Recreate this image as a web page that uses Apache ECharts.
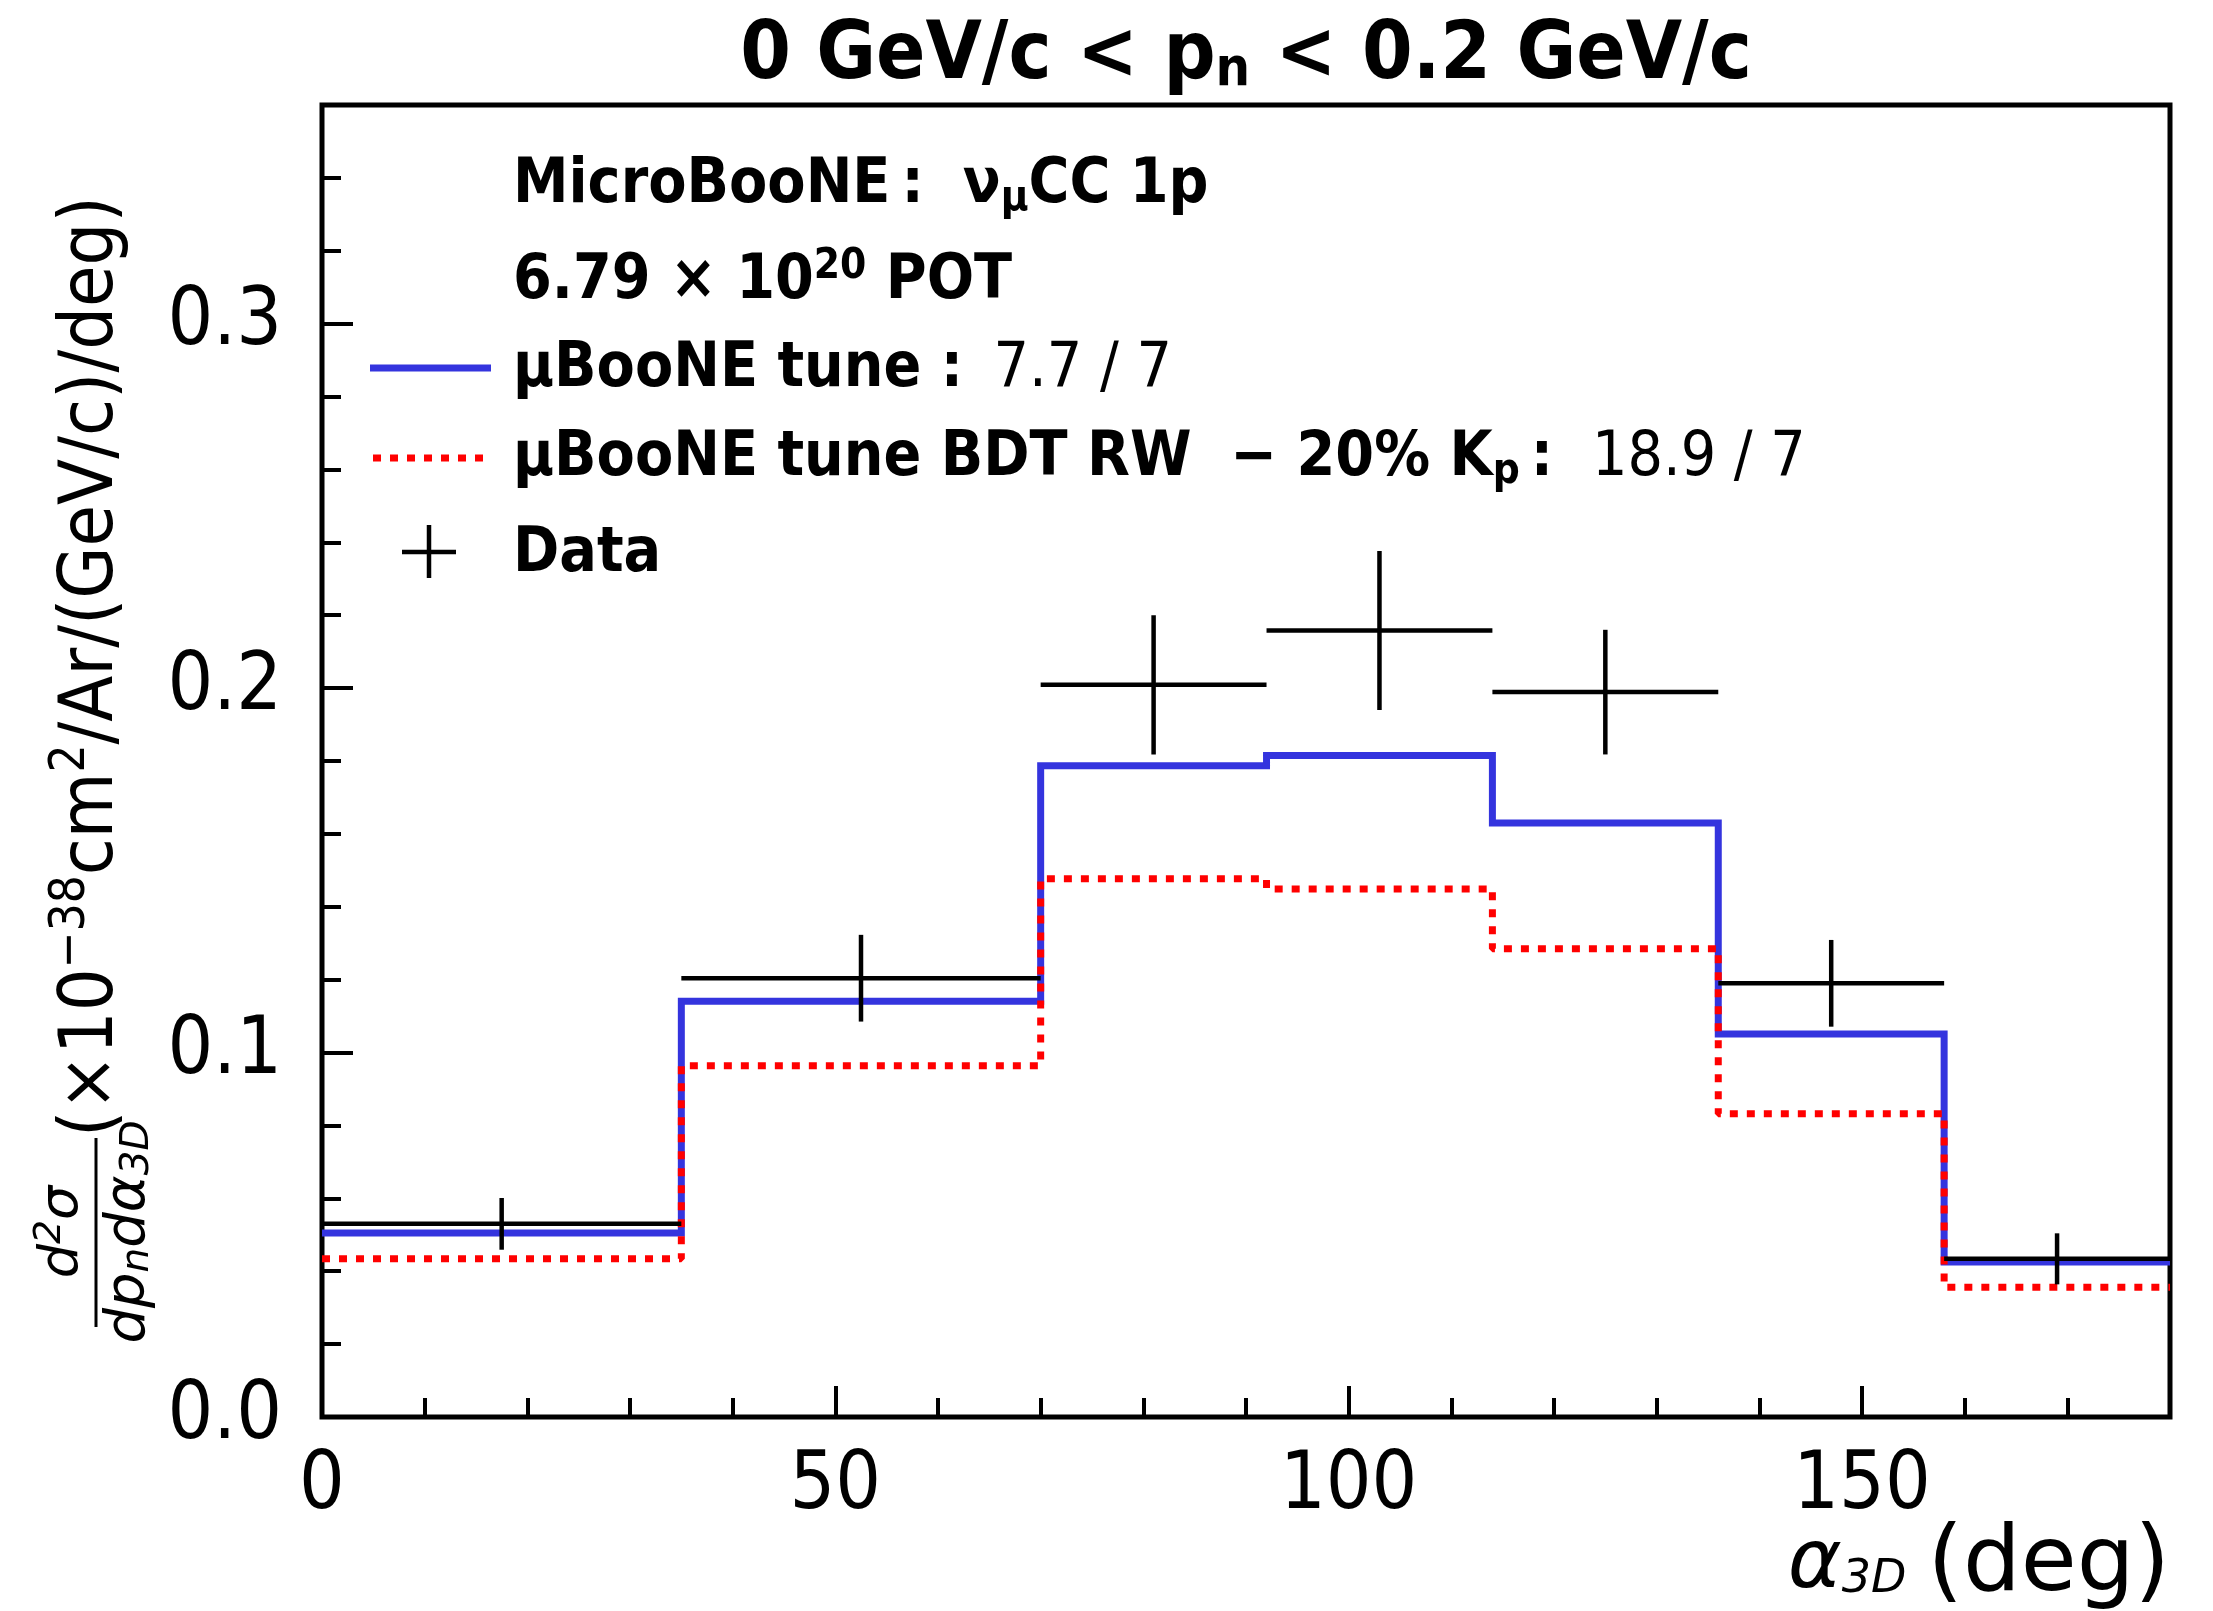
<!DOCTYPE html>
<html>
<head>
<meta charset="utf-8">
<script src="https://cdn.jsdelivr.net/npm/echarts@6/dist/echarts.min.js"></script>
<style>
html,body{margin:0;padding:0;background:#fff;}
#chart{width:2213px;height:1611px;}
</style>
</head>
<body>
<div id="chart"></div>
<script>
// ---- data ----
const binEdges   = [0, 35, 70, 92, 114, 136, 158, 180];
const tuneValues = [0.0505, 0.1141, 0.1787, 0.1815, 0.1630, 0.1051, 0.0425];
const bdtValues  = [0.0434, 0.0964, 0.1477, 0.1449, 0.1285, 0.0832, 0.0356];
const dataValues = [0.0530, 0.1204, 0.2009, 0.2158, 0.1989, 0.1190, 0.0434];
const dataErrors = [0.0071, 0.0119, 0.0191, 0.0218, 0.0171, 0.0119, 0.0070];
const xMajorTicks = [0, 50, 100, 150];
const yMajorTicks = [0.0, 0.1, 0.2, 0.3];
const tuneLabel = 'μBooNE tune';
const tuneChi2 = '7.7 / 7';
const bdtLabel = 'μBooNE tune BDT RW  − 20% K';
const bdtChi2 = '18.9 / 7';
const dataLabel = 'Data';

const FONT = '"DejaVu Sans Condensed", "DejaVu Sans", sans-serif';
const FONTW = '"DejaVu Sans", sans-serif';
const BLUE = '#3434de';
const RED = '#ff0000';

function stepPoints(vals) {
  const pts = [];
  for (let i = 0; i < vals.length; i++) pts.push([binEdges[i], vals[i]]);
  pts.push([binEdges[binEdges.length - 1], vals[vals.length - 1]]);
  return pts;
}
const dataItems = dataValues.map((v, i) => [binEdges[i], binEdges[i + 1], v, dataErrors[i]]);

const chart = echarts.init(document.getElementById('chart'), null, {renderer: 'canvas'});

const LF = 62, LS = 42;
const rb = (fs, fam) => ({fontFamily: fam || FONT, fontSize: fs, fontWeight: 'bold', lineHeight: fs});
const rr = (fs, fam) => ({fontFamily: fam || FONT, fontSize: fs, fontWeight: 'normal', lineHeight: fs});
const subB = (fs, pad, fam) => ({fontFamily: fam || FONT, fontSize: fs, fontWeight: 'bold', padding: [pad, 0, 0, 0]});
const supB = (fs, pad, fam) => ({fontFamily: fam || FONT, fontSize: fs, fontWeight: 'bold', padding: [0, 0, pad, 0]});

const option = {
  backgroundColor: '#fff',
  animation: false,
  grid: {left: 322, right: 43, top: 105, bottom: 194, show: true, borderColor: '#000', borderWidth: 5, backgroundColor: 'transparent'},
  xAxis: [
    {type: 'value', min: 0, max: 180, interval: 50, position: 'bottom',
     axisLine: {show: false}, splitLine: {show: false},
     axisTick: {show: true, inside: true, length: 31, lineStyle: {color: '#000', width: 4}},
     axisLabel: {show: true, margin: 30, fontFamily: FONT, fontSize: 80, color: '#000', showMaxLabel: false,
       formatter: v => (xMajorTicks.indexOf(v) >= 0 ? String(v) : '')}},
    {type: 'value', min: 0, max: 180, interval: 10, position: 'bottom',
     axisLine: {show: false}, splitLine: {show: false}, axisLabel: {show: false},
     axisTick: {show: true, inside: true, length: 19, lineStyle: {color: '#000', width: 4}}}
  ],
  yAxis: [
    {type: 'value', min: 0, max: 0.36, interval: 0.1, position: 'left',
     axisLine: {show: false}, splitLine: {show: false},
     axisTick: {show: true, inside: true, length: 31, lineStyle: {color: '#000', width: 4}},
     axisLabel: {show: true, margin: 40, fontFamily: FONT, fontSize: 80, color: '#000', showMaxLabel: false,
       formatter: v => {
         const m = yMajorTicks.find(t => Math.abs(t - v) < 1e-9);
         return m === undefined ? '' : m.toFixed(1);
       }}},
    {type: 'value', min: 0, max: 0.36, interval: 0.02, position: 'left',
     axisLine: {show: false}, splitLine: {show: false}, axisLabel: {show: false},
     axisTick: {show: true, inside: true, length: 19, lineStyle: {color: '#000', width: 4}}}
  ],
  series: [
    {type: 'line', name: tuneLabel, xAxisIndex: 0, yAxisIndex: 0, step: 'end', data: stepPoints(tuneValues),
     symbol: 'none', z: 3, lineStyle: {color: BLUE, width: 7, join: 'miter'}},
    {type: 'line', name: bdtLabel, xAxisIndex: 0, yAxisIndex: 0, step: 'end', data: stepPoints(bdtValues),
     symbol: 'none', z: 4, lineStyle: {color: RED, width: 7, type: [8, 9], cap: 'butt'}},
    {type: 'custom', name: dataLabel, xAxisIndex: 0, yAxisIndex: 0, z: 5,
     encode: {x: [0, 1], y: [2]},
     data: dataItems,
     renderItem: (params, api) => {
       const lo = api.value(0), hi = api.value(1), y = api.value(2), e = api.value(3);
       const xc = (lo + hi) / 2;
       const a = api.coord([lo, y]), b = api.coord([hi, y]);
       const t = api.coord([xc, y + e]), d = api.coord([xc, y - e]);
       return {type: 'group', children: [
         {type: 'line', shape: {x1: a[0], y1: a[1], x2: b[0], y2: b[1]}, style: {stroke: '#000', lineWidth: 4.5}},
         {type: 'line', shape: {x1: t[0], y1: t[1], x2: d[0], y2: d[1]}, style: {stroke: '#000', lineWidth: 4.5}}
       ]};
     }}
  ],
  graphic: [
    // title
    {type: 'text', x: 1246, y: 57, z: 10,
     style: {align: 'center', verticalAlign: 'middle',
       text: '{b|0 GeV/c < p}{s|n}{b| < 0.2 GeV/c}',
       rich: {b: rb(81), s: subB(54, 28)}}},
    // legend text lines
    {type: 'text', x: 513, y: 186, z: 10,
     style: {align: 'left', verticalAlign: 'middle', text: '{b|MicroBooNE\u2009:  ν}{s|μ}{b|CC 1p}',
       rich: {b: rb(LF), s: subB(LS, 26)}}},
    {type: 'text', x: 513, y: 282, z: 10,
     style: {align: 'left', verticalAlign: 'middle', text: '{b|6.79 × 10}{s|20}{b| POT}',
       rich: {b: rb(LF), s: supB(LS, 30)}}},
    {type: 'text', x: 513, y: 370, z: 10,
     style: {align: 'left', verticalAlign: 'middle', text: '{b|' + tuneLabel + ' : \u2009}{r|' + tuneChi2 + '}',
       rich: {b: rb(LF), r: rr(LF)}}},
    {type: 'text', x: 513, y: 459, z: 10,
     style: {align: 'left', verticalAlign: 'middle', text: '{b|' + bdtLabel + '}{s|p}{b|\u2009:  }{r|' + bdtChi2 + '}',
       rich: {b: rb(LF), s: subB(LS, 26), r: rr(LF)}}},
    {type: 'text', x: 513, y: 555, z: 10,
     style: {align: 'left', verticalAlign: 'middle', text: '{b|' + dataLabel + '}', rich: {b: rb(LF)}}},
    // legend keys
    {type: 'line', z: 10, shape: {x1: 370, y1: 368, x2: 491, y2: 368}, style: {stroke: BLUE, lineWidth: 7}},
    {type: 'line', z: 10, shape: {x1: 373, y1: 458, x2: 486, y2: 458}, style: {stroke: RED, lineWidth: 7, lineDash: [8, 9]}},
    {type: 'line', z: 10, shape: {x1: 402, y1: 552, x2: 456, y2: 552}, style: {stroke: '#000', lineWidth: 4.5}},
    {type: 'line', z: 10, shape: {x1: 429, y1: 525, x2: 429, y2: 578}, style: {stroke: '#000', lineWidth: 4.5}},
    // x axis title
    {type: 'text', x: 2170, y: 1566, z: 10,
     style: {align: 'right', verticalAlign: 'middle', text: '{i|α}{is|3D}{sp| }{r|(deg)}',
       rich: {i: {fontFamily: FONTW, fontSize: 82, fontStyle: 'italic', lineHeight: 86},
              is: {fontFamily: FONTW, fontSize: 46, fontStyle: 'italic', padding: [28, 0, 0, 0]},
              sp: {fontFamily: FONTW, fontSize: 66, lineHeight: 66},
              r: {fontFamily: FONTW, fontSize: 91, lineHeight: 91}}}},
    // y axis title (rotated)
    {type: 'group', x: 96, y: 1327, rotation: Math.PI / 2, z: 10, children: [
      {type: 'line', shape: {x1: 0, y1: 0, x2: 189, y2: 0}, style: {stroke: '#000', lineWidth: 3}},
      {type: 'text', x: 95, y: -33,
       style: {align: 'center', verticalAlign: 'middle', text: '{i|d}{sp|2}{i|σ}',
         rich: {i: {fontFamily: FONTW, fontSize: 54, fontStyle: 'italic', lineHeight: 54},
                sp: {fontFamily: FONTW, fontSize: 38, fontStyle: 'italic', padding: [0, 0, 25, 0]}}}},
      {type: 'text', x: 95, y: 33,
       style: {align: 'center', verticalAlign: 'middle', text: '{i|dp}{sb|n}{i|dα}{sb|3D}',
         rich: {i: {fontFamily: FONTW, fontSize: 56, fontStyle: 'italic', lineHeight: 56},
                sb: {fontFamily: FONTW, fontSize: 39, fontStyle: 'italic', padding: [18, 0, 0, 0]}}}},
      {type: 'text', x: 190, y: -3,
       style: {align: 'left', verticalAlign: 'middle', text: '{r|(×10}{sp|−38}{r|cm}{sp|2}{r|/Ar/(GeV/c)/deg)}',
         rich: {r: {fontFamily: FONT, fontSize: 75, lineHeight: 75},
                sp: {fontFamily: FONT, fontSize: 49, padding: [0, 0, 43, 0]}}}}
    ]}
  ]
};
chart.setOption(option);
</script>
</body>
</html>
